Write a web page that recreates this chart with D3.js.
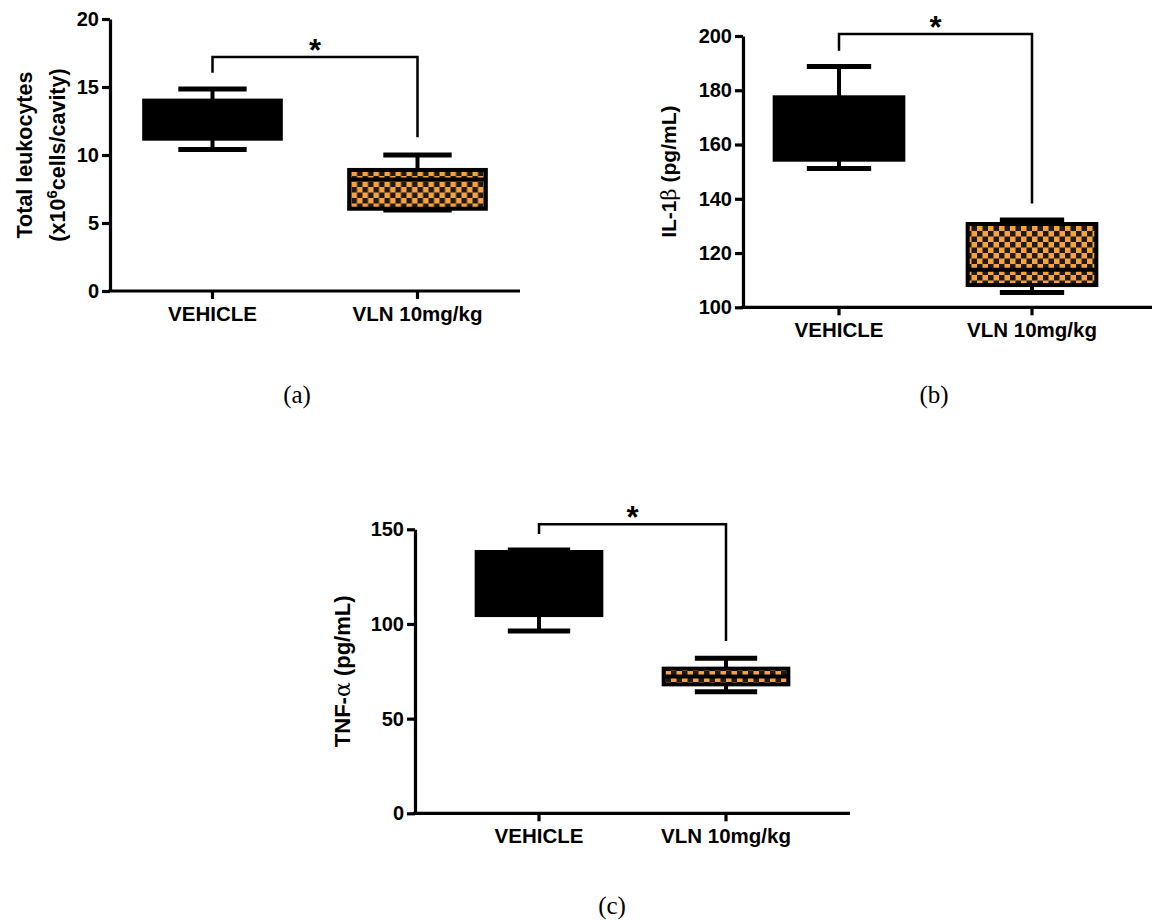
<!DOCTYPE html>
<html>
<head>
<meta charset="utf-8">
<script src="https://cdn.jsdelivr.net/npm/d3@7"></script>
<style>
  body { margin: 0; background: #fff; }
  svg text { font-family: "Liberation Sans", Arial, sans-serif; font-weight: bold; fill: #000; }
  .panel-label { font-family: "Liberation Serif", "Times New Roman", serif; font-weight: normal; }
</style>
</head>
<body>
<div id="chart"></div>
<script>
// Data: [min, q1, median, q3, max] per group
const categories = ["VEHICLE", "VLN 10mg/kg"];

const leukocytes = [[10.4, 11.2, 12.6, 14.0, 14.85], [5.95, 6.05, 8.2, 8.9, 10.0]];
const il1b       = [[151.2, 154.4, 165, 177.4, 188.8], [105.5, 108.2, 113.8, 130.7, 132.2]];
const tnfa       = [[96.3, 104.7, 120, 138.0, 139.1], [64.2, 68.1, 72.2, 76.4, 81.9]];

const leukocyteTicks = [0, 5, 10, 15, 20];
const il1bTicks = [100, 120, 140, 160, 180, 200];
const tnfaTicks = [0, 50, 100, 150];

// significance bracket: [bar level, left drop end, right drop end]
const leukocyteSig = [17.2, 16.05, 11.3];
const il1bSig = [200.7, 194.6, 138.3];
const tnfaSig = [152.7, 147.5, 91.0];

const svg = d3.select("#chart")
              .append("svg")
                .attr("width", 1160)
                .attr("height", 920);

// checker pattern for the treated group
const pat = svg.append("defs")
               .append("pattern")
                 .attr("id", "checker")
                 .attr("patternUnits", "userSpaceOnUse")
                 .attr("width", 11)
                 .attr("height", 11);
pat.append("rect").attr("width", 11).attr("height", 11).attr("fill", "#fba13c");
pat.append("rect").attr("width", 5.5).attr("height", 5.5).attr("fill", "#1b1b1b");
pat.append("rect").attr("x", 5.5).attr("y", 5.5).attr("width", 5.5).attr("height", 5.5).attr("fill", "#1b1b1b");

function drawPanel(cfg) {
  const g = svg.append("g");

  // category positions follow the original tick spacing
  const x = d3.scalePoint()
              .domain(categories)
              .range([cfg.tick0, cfg.tick0 + cfg.step]);

  const y = d3.scaleLinear()
              .domain(cfg.domain)
              .range([cfg.yBottom, cfg.yTop]);

  // y axis
  const yAxis = g.append("g")
                 .attr("transform", `translate(${cfg.x0},0)`)
                 .call(d3.axisLeft(y).tickValues(cfg.ticks).tickSize(8).tickPadding(3).tickSizeOuter(0));
  yAxis.select(".domain").attr("stroke-width", 3.2);
  yAxis.selectAll(".tick line").attr("stroke-width", 3.2);
  yAxis.selectAll("text").style("font-size", "20px");

  // x axis (drawn by hand so the line can run to the panel end)
  const xAxis = g.append("g").attr("transform", `translate(0,${cfg.yBottom})`);
  xAxis.append("line")
       .attr("x1", cfg.x0 - 1.6).attr("x2", cfg.xEnd)
       .attr("stroke", "#000").attr("stroke-width", 3.2);
  const ticks = xAxis.selectAll(".xt")
                     .data(categories)
                     .join("g")
                       .attr("transform", d => `translate(${x(d)},0)`);
  ticks.append("line").attr("y2", 8).attr("stroke", "#000").attr("stroke-width", 3.2);
  ticks.append("text")
       .attr("y", 15).attr("dy", "0.71em")
       .attr("text-anchor", "middle")
       .style("font-size", "20.5px")
       .text(d => d);

  const boxW = cfg.step * 2 / 3;
  const capW = boxW / 2;

  const groups = g.selectAll(".box")
                  .data(cfg.data)
                  .join("g")
                    .attr("transform", (d, i) => `translate(${x(categories[i])},0)`);

  // whiskers
  groups.append("line")
        .attr("y1", d => y(d[0])).attr("y2", d => y(d[4]))
        .attr("stroke", "#000").attr("stroke-width", 4);
  groups.append("line")
        .attr("x1", -capW / 2).attr("x2", capW / 2)
        .attr("y1", d => y(d[4])).attr("y2", d => y(d[4]))
        .attr("stroke", "#000").attr("stroke-width", 5);
  groups.append("line")
        .attr("x1", -capW / 2).attr("x2", capW / 2)
        .attr("y1", d => y(d[0])).attr("y2", d => y(d[0]))
        .attr("stroke", "#000").attr("stroke-width", 5);

  // boxes
  groups.append("rect")
        .attr("x", -boxW / 2)
        .attr("width", boxW)
        .attr("y", d => y(d[3]))
        .attr("height", d => y(d[1]) - y(d[3]))
        .attr("fill", (d, i) => i === 0 ? "#000" : "url(#checker)")
        .attr("stroke", "#000")
        .attr("stroke-width", 4);

  // median
  groups.append("line")
        .attr("x1", -boxW / 2).attr("x2", boxW / 2)
        .attr("y1", d => y(d[2])).attr("y2", d => y(d[2]))
        .attr("stroke", "#000").attr("stroke-width", 4);

  // significance bracket
  const xl = x(categories[0]), xr = x(categories[1]);
  g.append("path")
   .attr("d", `M${xl},${y(cfg.sig[1])}V${y(cfg.sig[0])}H${xr}V${y(cfg.sig[2])}`)
   .attr("fill", "none")
   .attr("stroke", "#000")
   .attr("stroke-width", 2.5);
  g.append("text")
   .attr("x", (xl + xr) / 2)
   .attr("y", y(cfg.sig[0]) + 4)
   .attr("text-anchor", "middle")
   .style("font-size", "31px")
   .text("*");

  // y title
  const cy = (cfg.yTop + cfg.yBottom) / 2;
  cfg.title(g, cy);

  // panel letter
  g.append("text")
   .attr("class", "panel-label")
   .attr("x", cfg.labelX).attr("y", cfg.labelY)
   .attr("text-anchor", "middle")
   .style("font-size", "25px")
   .text(cfg.label);
}

drawPanel({
  data: leukocytes, ticks: leukocyteTicks, sig: leukocyteSig,
  domain: [0, 20], x0: 110, xEnd: 520, tick0: 212.5, step: 205,
  yTop: 19, yBottom: 291, label: "(a)", labelX: 297, labelY: 403,
  title: (g, cy) => {
    g.append("text")
     .attr("transform", `translate(32,${cy})rotate(-90)`)
     .attr("text-anchor", "middle")
     .style("font-size", "21.5px")
     .text("Total leukocytes");
    const t = g.append("text")
               .attr("transform", `translate(65,${cy})rotate(-90)`)
               .attr("text-anchor", "middle")
               .style("font-size", "21.5px");
    t.append("tspan").text("(x10");
    t.append("tspan").attr("dy", -8).style("font-size", "15px").text("6");
    t.append("tspan").attr("dy", 8).text("cells/cavity)");
  }
});

drawPanel({
  data: il1b, ticks: il1bTicks, sig: il1bSig,
  domain: [100, 200], x0: 743, xEnd: 1152, tick0: 839, step: 193,
  yTop: 36, yBottom: 307.3, label: "(b)", labelX: 934, labelY: 403,
  title: (g, cy) => {
    const t = g.append("text")
               .attr("transform", `translate(676,${cy})rotate(-90)`)
               .attr("text-anchor", "middle")
               .style("font-size", "21px");
    t.append("tspan").text("IL-1");
    t.append("tspan").style("font-family", "'DejaVu Serif', serif").style("font-weight", "normal").text("β");
    t.append("tspan").text(" (pg/mL)");
  }
});

drawPanel({
  data: tnfa, ticks: tnfaTicks, sig: tnfaSig,
  domain: [0, 150], x0: 415, xEnd: 850, tick0: 539, step: 187,
  yTop: 529.3, yBottom: 813.3, label: "(c)", labelX: 612, labelY: 914,
  title: (g, cy) => {
    const t = g.append("text")
               .attr("transform", `translate(350,${cy})rotate(-90)`)
               .attr("text-anchor", "middle")
               .style("font-size", "22px");
    t.append("tspan").text("TNF-");
    t.append("tspan").style("font-family", "'DejaVu Serif', serif").style("font-weight", "normal").text("α");
    t.append("tspan").text(" (pg/mL)");
  }
});
</script>
</body>
</html>
